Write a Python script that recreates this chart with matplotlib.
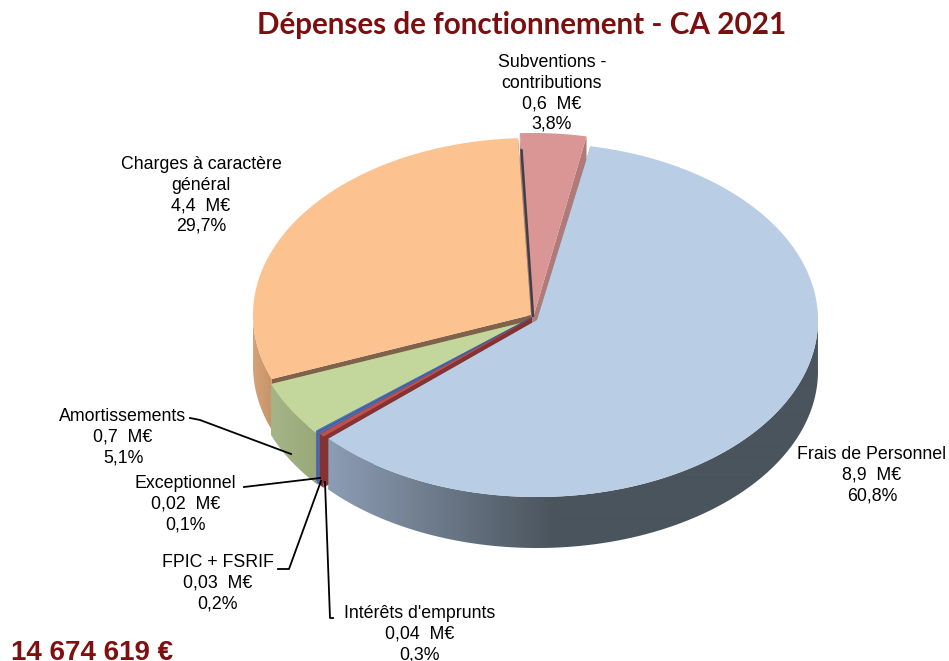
import numpy as np
import matplotlib.pyplot as plt
from matplotlib.patches import Polygon
from matplotlib.colors import to_rgb

# slices, clockwise from the first one
names = ["Frais de Personnel", "Intérêts d'emprunts", "FPIC + FSRIF", "Exceptionnel",
         "Amortissements", "Charges à caractère\ngénéral", "Subventions -\ncontributions"]
millions = ["8,9", "0,04", "0,03", "0,02", "0,7", "4,4", "0,6"]
percents = [60.8, 0.3, 0.2, 0.1, 5.1, 29.7, 3.8]
title = "Dépenses de fonctionnement - CA 2021"
total = "14 674 619 €"

top_colors = ["#b9cde5", "#c0504d", "#4f6bb0", "#4f81bd", "#c3d69b", "#fcc28f", "#d99694"]
wall_colors = ["#6d7d90", "#843232", "#3f5590", "#3f5590", "#8f9e70", "#80614a", "#b07a78"]
side_left = ["#8c9cb4", "#843232", "#4f6bb0", "#4f6bb0", "#a5b588", "#d6a176", "#b07a78"]
side_right = ["#4a545c", "#843232", "#4f6bb0", "#4f6bb0", "#98a878", "#c6946a", "#b07a78"]
# offset of each slice from the pie centre and its own radii, pixels
shift_x = [2, -3, -3, -3, -2, -4, -2]
shift_y = [0, -2, -2, -3, 0, -5, -2]
radius_x = [281, 281, 281, 281, 281, 278, 281]
radius_y = [177, 177, 177, 177, 177, 177, 185]

start_angle = 79
cx, cy = 535, 320
depth = 51

fig = plt.figure(figsize=(9.49, 6.61), dpi=100)
ax = fig.add_axes([0, 0, 1, 1])


def warp(a):
    # the picture is in perspective: the front of the pie is a little stretched
    return a + 1.2 * (1 - np.sin(np.radians(a)))


def draw_slice(i, a0, a1, z):
    t = np.radians(warp(np.linspace(a0, a1, 300)))
    x = cx + shift_x[i] + radius_x[i] * np.cos(t)
    y = cy + shift_y[i] - radius_y[i] * np.sin(t)
    px, py = cx + shift_x[i], cy + shift_y[i]
    # cut faces
    for k in [0, -1]:
        ax.add_patch(Polygon([(px, py), (x[k], y[k]), (x[k], y[k] + depth), (px, py + depth)],
                             fc=wall_colors[i], ec="none", zorder=z))
    # outer wall, shaded along x
    front = np.sin(t) < 0.02
    if front.any():
        xf, yf = x[front], y[front]
        c0, c1 = np.array(to_rgb(side_left[i])), np.array(to_rgb(side_right[i]))
        xs = np.arange(0, 950)
        if i == 0:
            f = np.clip((xs - 330) / 225, 0, 1)
        else:
            f = np.clip((xs - xf.min()) / max(xf.max() - xf.min(), 1), 0, 1)
        grad = (c0[None, :] + (c1 - c0)[None, :] * f[:, None])[None, :, :]
        im = ax.imshow(grad, extent=(0, 950, 661, 0), aspect="auto", zorder=z + 0.01,
                       interpolation="bilinear")
        clip = Polygon(np.c_[np.r_[xf, xf[::-1]], np.r_[yf, yf[::-1] + depth]],
                       fc="none", ec="none", transform=ax.transData)
        ax.add_patch(clip)
        im.set_clip_path(clip)
    ax.add_patch(Polygon(np.c_[np.r_[px, x], np.r_[py, y]], fc=top_colors[i], ec="none", zorder=z + 0.02))


angles = [start_angle]
for p in percents:
    angles.append(angles[-1] - p / sum(percents) * 360)

for z, i in enumerate([6, 5, 4, 3, 2, 1, 0]):
    draw_slice(i, angles[i], angles[i + 1], z + 1)

# dark sliver on the left edge of the small top slice
ax.plot([521.5, 533], [150, 316], color="#3f3f4a", lw=1.8, solid_capstyle="round", zorder=1.5)

# leader lines
lead_x = [[190, 200, 291], [244, 320], [278, 289, 321], [333, 330, 325]]
lead_y = [[418, 420, 454], [487, 478], [569, 569, 481], [618, 618, 482]]
for lx, ly in zip(lead_x, lead_y):
    ax.plot(lx, ly, color="black", lw=1.3, zorder=9)

label_x = [872, 420, 218, 185.5, 123, 201, 552]
label_y = [446, 605, 554, 475, 408, 156, 54]
for i in range(len(names)):
    txt = f"{names[i]}\n{millions[i]}  M€\n{percents[i]:.1f}%".replace(".", ",")
    ax.text(label_x[i], label_y[i], txt, ha="center", va="top", fontsize=12.8,
            family="Liberation Sans", linespacing=1.27, color="black", zorder=10)

ax.text(522, 25, title, ha="center", va="center", fontsize=21.3, fontweight="bold",
        family="Lato", color="#7b0f0f")
ax.text(11, 660, total, ha="left", va="baseline", fontsize=20, fontweight="bold",
        family="Liberation Sans", color="#800f0f")

ax.set_xlim(0, 949)
ax.set_ylim(661, 0)
ax.axis("off")

fig.savefig("out.png", dpi=100)
